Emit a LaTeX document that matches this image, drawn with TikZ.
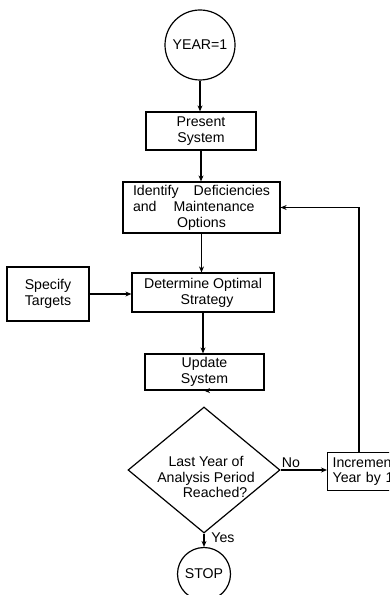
\documentclass[tikz,border=0pt]{standalone}
\usepackage{fontspec}
\setmainfont{Liberation Sans}
\usetikzlibrary{arrows.meta,shapes.geometric,calc}
\newcommand\diagfont{\fontsize{14.2}{16}\selectfont}
\begin{document}
\begin{tikzpicture}[x=1bp,y=-1bp,line width=1.2bp,
  box/.style={draw,rectangle,inner sep=0pt,align=center,font=\diagfont},
  term/.style={draw,circle,inner sep=0pt,font=\diagfont},
  arr/.style={-{Stealth[length=6bp,width=5bp]}},
  lbl/.style={inner sep=0pt,font=\diagfont}]
\useasboundingbox (0,0) rectangle (389,595);
\clip (0,0) rectangle (389,595);
\node[term,minimum size=70bp] (start) at (200,45) {YEAR=1};
\node[box,minimum width=110bp,minimum height=38bp] (present) at (201,131) {Present\\System};
\node[box,minimum width=157bp,minimum height=51bp] (identify) at (201.5,207.5)
  {\makebox[137bp][l]{Identify\hfill Deficiencies}\\\makebox[137bp][l]{and\hspace{17bp}Maintenance}\\Options};
\node[box,minimum width=142bp,minimum height=39bp] (determine) at (203,292.5) {Determine Optimal\\\hspace*{8bp}Strategy};
\node[box,minimum width=82bp,minimum height=54bp] (specify) at (48,294) {Specify\\Targets};
\node[box,minimum width=119bp,minimum height=36bp] (update) at (204.5,372) {Update\\System};
\node[draw,diamond,minimum width=152bp,minimum height=126bp,inner sep=0pt] (decision) at (204,470) {};
\node[lbl,align=center] (dectext) at (206,477) {Last Year of\\Analysis Period\\\hspace*{18bp}Reached?};
\node[box,anchor=north west,minimum width=95bp,minimum height=38bp,align=left,text width=85bp] (increment) at (327,452) {Increment\\Year by 1};
\node[term,minimum size=53bp] (stop) at (204,574) {STOP};
\node[lbl,anchor=south] (no) at (291,468) {No};
\node[lbl] (yes) at (223,538) {Yes};
\coordinate (fb) at (359,452);
\draw[arr] (start.south) -- (start.south |- present.north);
\draw[arr] (present.south) -- (present.south |- identify.north);
\draw[arr] (identify.south) -- (identify.south |- determine.north);
\draw[arr] (specify.east) -- (specify.east -| determine.west);
\draw[arr] (determine.south) -- (determine.south |- update.north);
\draw[arr] (update.south) -- (update.south -| decision.north);
\draw[arr] (decision.east) -- (decision.east -| increment.west);
\draw[arr] (decision.south) -- (decision.south |- stop.north);
\draw[arr] (fb) |- (identify.east);
\end{tikzpicture}
\end{document}
